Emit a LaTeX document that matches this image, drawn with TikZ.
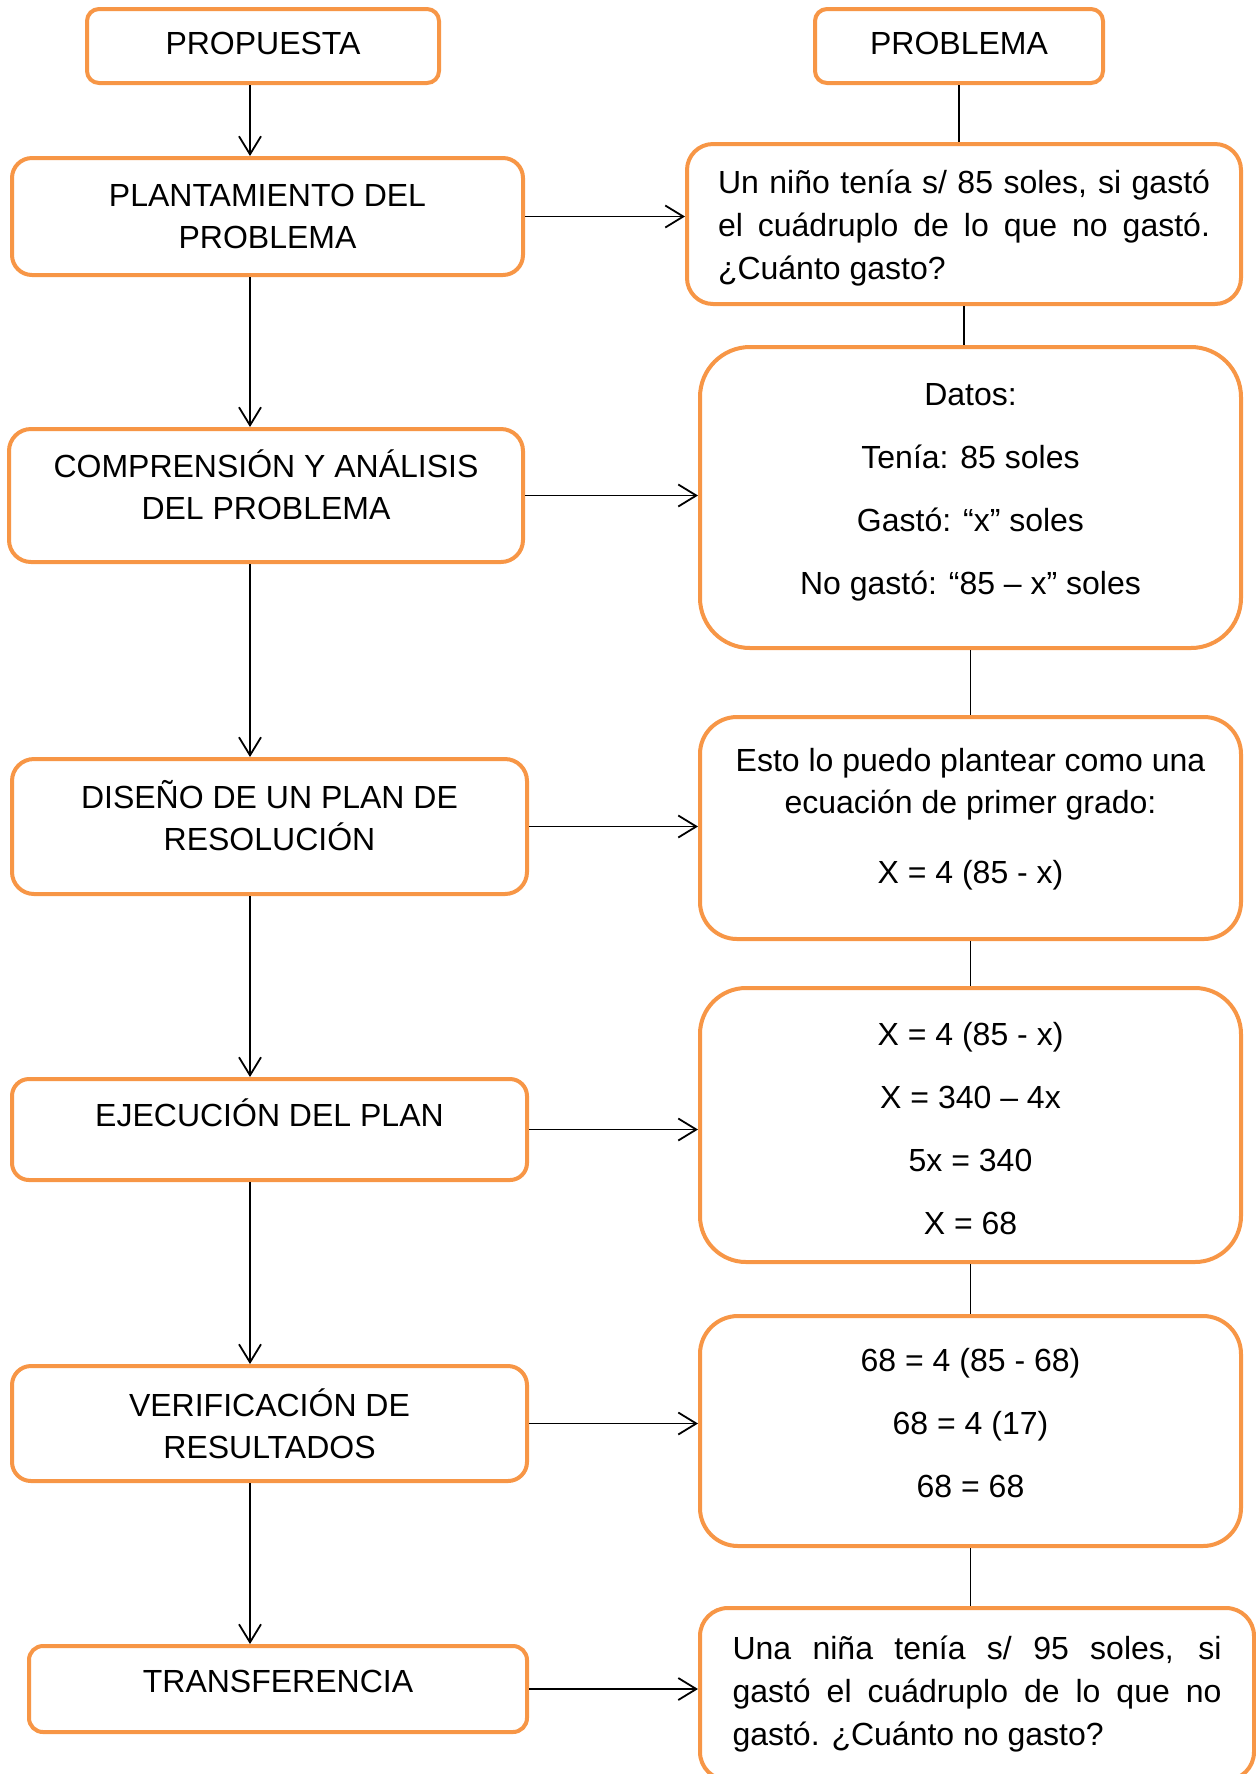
\documentclass[tikz,border=0pt]{standalone}
\usepackage{fontspec}
\setmainfont{Liberation Sans}
\usetikzlibrary{arrows.meta}
\definecolor{naranja}{HTML}{F79646}

\begin{document}
\begin{tikzpicture}[x=0.5pt, y=-0.5pt,
	caja/.style={draw=naranja, line width=2pt, fill=white, align=center, inner sep=0pt},
	flecha/.style={-{Straight Barb[length=9pt,width=11pt]}, line width=0.9pt},
	linea/.style={line width=0.8pt},
	font=\fontsize{16}{21}\selectfont]

	\useasboundingbox (0,0) rectangle (1256,1774);

	% Propuesta
	\node[caja, minimum width=176pt, minimum height=37pt, rounded corners=6pt,
		text height=11.5pt, text depth=3pt] (propuesta) at (263,46) {PROPUESTA};
	\node[caja, minimum width=255.5pt, minimum height=58.5pt, rounded corners=10pt] (plant) at (267.5,216.5) {PLANTAMIENTO DEL\\PROBLEMA};
	\node[caja, minimum width=257pt, minimum height=66.5pt, rounded corners=11pt,
		text height=32.5pt, text depth=8.5pt] (compr) at (266,495.5) {COMPRENSIÓN Y ANÁLISIS\\DEL PROBLEMA};
	\node[caja, minimum width=257.5pt, minimum height=67.5pt, rounded corners=11pt,
		text height=32.5pt, text depth=8.5pt] (diseno) at (269.5,826.5) {DISEÑO DE UN PLAN DE\\RESOLUCIÓN};
	\node[caja, minimum width=257.5pt, minimum height=50.5pt, rounded corners=8.5pt,
		text height=11.5pt, text depth=15pt] (ejec) at (269.5,1129.5) {EJECUCIÓN DEL PLAN};
	\node[caja, minimum width=257.5pt, minimum height=57.5pt, rounded corners=9.5pt] (verif) at (269.5,1423.5) {VERIFICACIÓN DE\\RESULTADOS};
	\node[caja, minimum width=249pt, minimum height=43pt, rounded corners=7pt,
		text height=11.5pt, text depth=8pt] (transf) at (278,1689) {TRANSFERENCIA};

	% Problema
	\node[caja, minimum width=144pt, minimum height=37pt, rounded corners=6pt,
		text height=11.5pt, text depth=3pt] (problema) at (959,46) {PROBLEMA};
	\node[caja, minimum width=277pt, minimum height=80pt, rounded corners=13pt,
		text width=246pt, align=justify, font=\fontsize{16}{21.5}\selectfont,
		text height=11.5pt, text depth=42pt] (nino) at (964,224)
		{Un niño tenía s/ 85 soles, si gastó\linebreak el cuádruplo de lo que no gastó.\linebreak ¿Cuánto gasto?};
	\node[caja, minimum width=270.5pt, minimum height=150.5pt, rounded corners=25pt,
		text height=106pt, text depth=9pt] (datos) at (970.5,497.5)
		{Datos:\\[10.5pt]Tenía: 85 soles\\[10.5pt]Gastó: “x” soles\\[10.5pt]No gastó: “85 – x” soles};
	\node[caja, minimum width=270.5pt, minimum height=111pt, rounded corners=18.5pt,
		text height=67.5pt, text depth=12.4pt] (esto) at (970.5,828)
		{Esto lo puedo plantear como una\\ecuación de primer grado:\\[14pt]X = 4 (85 - x)};
	\node[caja, minimum width=270.5pt, minimum height=137pt, rounded corners=23pt,
		text height=109.4pt, text depth=0pt] (xeq) at (970.5,1125)
		{X = 4 (85 - x)\\[10.5pt]X = 340 – 4x\\[10.5pt]5x = 340\\[10.5pt]X = 68};
	\node[caja, minimum width=270.5pt, minimum height=115pt, rounded corners=19pt,
		text height=74.5pt, text depth=8.5pt] (prueba) at (970.5,1431)
		{68 = 4 (85 - 68)\\[10.5pt]68 = 4 (17)\\[10.5pt]68 = 68};
	\node[caja, minimum width=277pt, minimum height=86pt, rounded corners=14pt,
		text width=244.5pt, align=justify, font=\fontsize{16}{21.5}\selectfont] (nina) at (977,1694)
		{Una niña tenía s/ 95 soles, si\linebreak gastó el cuádruplo de lo que no\linebreak gastó. ¿Cuánto no gasto?};

	% Flechas de la propuesta
	\coordinate (eje) at (250,0);
	\draw[flecha] (propuesta.south -| eje) -- (plant.north -| eje);
	\draw[flecha] (plant.south -| eje) -- (compr.north -| eje);
	\draw[flecha] (compr.south -| eje) -- (diseno.north -| eje);
	\draw[flecha] (diseno.south -| eje) -- (ejec.north -| eje);
	\draw[flecha] (ejec.south -| eje) -- (verif.north -| eje);
	\draw[flecha] (verif.south -| eje) -- (transf.north -| eje);

	% Lineas del problema
	\draw[linea] (problema.south) -- (problema.south |- nino.north);
	\draw[linea] (nino.south) -- (nino.south |- datos.north);
	\draw[linea] (datos.south) -- (esto.north);
	\draw[linea] (esto.south) -- (xeq.north);
	\draw[linea] (xeq.south) -- (prueba.north);
	\draw[linea] (prueba.south) -- (prueba.south |- nina.north);

	% Flechas horizontales
	\draw[flecha] (plant.east) -- (plant.east -| nino.west);
	\draw[flecha] (compr.east) -- (compr.east -| datos.west);
	\draw[flecha] (diseno.east) -- (diseno.east -| esto.west);
	\draw[flecha] (ejec.east) -- (ejec.east -| xeq.west);
	\draw[flecha] (verif.east) -- (verif.east -| prueba.west);
	\draw[flecha] (transf.east) -- (transf.east -| nina.west);

\end{tikzpicture}
\end{document}
